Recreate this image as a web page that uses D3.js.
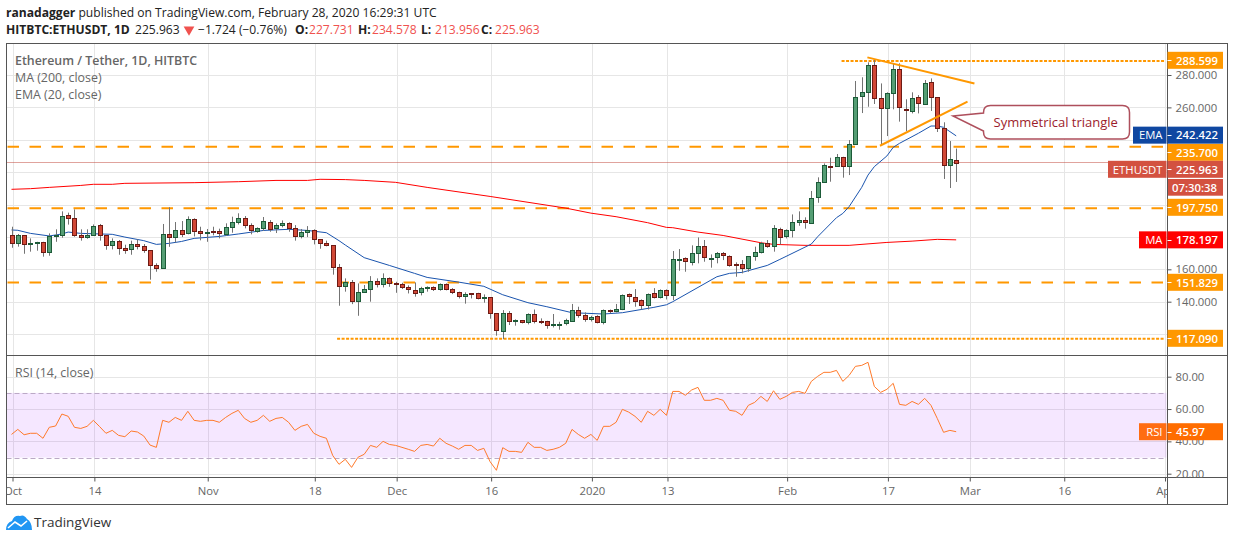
<!DOCTYPE html>
<html>
<head>
<meta charset="utf-8">
<script src="https://cdn.jsdelivr.net/npm/d3@7"></script>
<style>
  html, body { margin: 0; padding: 0; background: #fff; }
  text { font-family: "Open Sans", sans-serif; }
</style>
</head>
<body>
<svg id="chart" width="1234" height="541"></svg>
<script>
// daily candles, day 0 is 1 Oct 2019, day 150 is 28 Feb 2020
var opens = [
  181.0, 176.0, 181.0, 175.4, 176.0, 176.6, 170.5, 180.2, 181.0, 193.3,
  191.5, 181.0, 179.5, 180.8, 187.1, 181.0, 174.8, 177.2, 172.9, 172.3,
  175.4, 174.2, 171.7, 162.4, 160.6, 181.6, 179.5, 184.0, 182.2, 190.8,
  183.4, 182.2, 183.4, 183.4, 181.6, 185.9, 189.0, 191.5, 187.1, 183.6,
  185.1, 189.0, 185.1, 187.1, 188.4, 185.3, 180.3, 182.8, 184.0, 178.5,
  176.0, 174.8, 161.2, 149.5, 151.9, 140.0, 145.8, 147.6, 152.5, 150.5,
  154.4, 151.3, 150.7, 148.8, 147.0, 145.8, 148.2, 148.8, 147.6, 150.7,
  147.6, 145.8, 143.3, 145.1, 145.1, 142.0, 142.7, 132.8, 121.7, 132.8,
  128.2, 128.4, 127.2, 132.2, 127.8, 127.8, 125.4, 125.4, 126.6, 127.8,
  134.6, 131.6, 129.1, 130.9, 127.2, 134.6, 134.0, 135.2, 144.5, 142.7,
  140.8, 137.7, 145.1, 142.7, 147.0, 143.9, 165.5, 166.8, 164.3, 169.8,
  174.2, 166.5, 167.4, 169.8, 168.0, 163.0, 163.0, 160.6, 168.0, 170.5,
  176.0, 174.2, 184.7, 180.3, 184.0, 189.0, 190.2, 188.6, 204.4, 213.7,
  223.6, 223.6, 229.1, 223.6, 237.2, 266.8, 269.3, 286.0, 265.6, 259.4,
  268.7, 283.5, 258.8, 257.6, 266.2, 261.9, 275.5, 266.2, 247.0, 224.2,
  227.731
];
var closes = [
  176.0, 181.0, 175.4, 176.2, 176.8, 170.5, 180.3, 181.0, 192.7, 191.2,
  180.8, 179.5, 181.0, 186.5, 180.8, 174.8, 177.2, 172.9, 171.7, 175.4,
  174.2, 171.7, 162.4, 160.6, 181.6, 179.5, 184.0, 181.6, 190.8, 183.4,
  182.2, 182.8, 183.2, 182.2, 185.9, 189.0, 191.5, 187.3, 184.0, 185.3,
  189.6, 184.7, 187.1, 188.4, 185.1, 180.3, 182.8, 184.0, 178.5, 176.0,
  174.8, 161.2, 149.5, 151.9, 140.0, 145.8, 147.6, 152.5, 150.5, 154.4,
  151.3, 150.7, 148.8, 147.6, 145.1, 148.2, 148.8, 147.6, 150.7, 147.6,
  145.8, 143.3, 144.5, 144.9, 142.0, 142.7, 132.8, 122.3, 132.8, 127.8,
  128.4, 127.2, 132.2, 127.8, 127.6, 125.4, 126.0, 126.0, 128.4, 134.6,
  131.6, 129.1, 130.3, 127.2, 134.6, 134.4, 135.2, 143.9, 143.3, 140.2,
  137.7, 144.5, 142.7, 147.0, 143.9, 166.1, 166.1, 164.7, 169.8, 174.2,
  167.4, 166.8, 169.8, 168.4, 162.4, 162.8, 160.6, 168.0, 170.5, 176.0,
  174.0, 185.3, 179.7, 184.0, 189.0, 190.2, 189.0, 203.8, 213.7, 224.2,
  223.4, 229.1, 223.6, 237.2, 266.2, 269.3, 286.0, 265.6, 259.4, 268.7,
  283.5, 260.0, 258.2, 265.6, 262.5, 274.8, 266.2, 247.0, 224.2, 227.9,
  225.963
];
var highs = [
  186.3, 181.8, 181.2, 179.1, 177.0, 177.0, 182.2, 184.7, 195.8, 195.0,
  197.0, 184.7, 184.7, 187.7, 188.0, 181.0, 179.1, 178.1, 175.2, 177.7,
  178.5, 175.6, 171.9, 163.7, 188.0, 198.3, 189.2, 189.8, 192.7, 191.5,
  186.3, 184.9, 186.3, 185.1, 188.4, 192.5, 194.6, 192.9, 188.4, 185.9,
  192.3, 190.4, 188.4, 190.2, 189.0, 187.3, 184.9, 186.7, 184.7, 178.5,
  177.7, 174.8, 163.3, 154.4, 153.4, 151.3, 150.3, 155.8, 154.4, 157.5,
  155.0, 152.3, 151.7, 150.1, 151.9, 149.2, 149.5, 149.5, 151.3, 151.3,
  148.4, 146.2, 145.8, 145.1, 145.5, 144.5, 142.7, 132.8, 134.8, 134.2,
  129.1, 128.7, 132.8, 135.2, 129.7, 128.2, 132.4, 127.6, 129.5, 138.6,
  136.9, 133.4, 131.3, 131.6, 135.2, 135.2, 138.6, 144.5, 145.1, 147.8,
  141.4, 145.1, 148.4, 147.6, 147.6, 171.3, 172.5, 167.4, 174.8, 179.7,
  178.1, 169.2, 170.7, 170.7, 168.6, 164.3, 165.7, 168.2, 174.0, 177.0,
  178.1, 187.3, 185.7, 184.7, 193.9, 195.8, 192.1, 208.4, 216.8, 225.4,
  228.9, 231.2, 229.5, 239.8, 276.3, 278.6, 287.8, 289.3, 274.8, 269.3,
  287.2, 287.2, 265.0, 269.3, 267.6, 276.9, 277.9, 266.2, 250.8, 239.2,
  234.578
];
var lows = [
  173.3, 174.0, 169.6, 170.9, 171.5, 167.8, 168.4, 177.0, 179.5, 187.6,
  180.1, 177.7, 178.9, 180.8, 177.7, 172.1, 172.3, 169.0, 169.6, 169.0,
  172.3, 170.2, 153.6, 158.5, 160.4, 173.9, 176.6, 179.9, 181.6, 180.3,
  177.9, 177.0, 181.0, 179.1, 180.6, 182.6, 187.7, 185.3, 181.6, 182.6,
  183.8, 183.2, 182.4, 185.9, 183.2, 177.7, 179.1, 179.9, 175.4, 172.7,
  174.2, 156.7, 137.5, 146.2, 138.5, 131.3, 145.8, 140.0, 148.8, 148.8,
  149.2, 145.5, 147.8, 145.1, 143.1, 143.9, 146.2, 146.6, 146.8, 147.0,
  144.7, 142.0, 138.8, 142.0, 141.4, 139.4, 129.5, 119.0, 116.9, 125.6,
  125.2, 126.6, 126.0, 126.6, 126.2, 123.3, 124.1, 122.7, 125.4, 127.6,
  130.1, 127.6, 127.8, 126.6, 126.0, 132.8, 133.4, 134.8, 138.6, 136.9,
  135.2, 135.2, 142.0, 142.0, 141.4, 141.0, 159.1, 158.5, 162.4, 163.7,
  164.7, 161.0, 163.7, 165.7, 161.6, 155.4, 157.5, 158.5, 165.3, 169.8,
  173.3, 170.9, 175.4, 179.1, 179.7, 186.9, 185.1, 188.2, 201.1, 213.7,
  214.1, 223.4, 216.6, 218.2, 237.2, 256.5, 260.4, 262.1, 237.2, 242.3,
  258.8, 251.2, 245.4, 256.3, 256.3, 261.5, 257.8, 244.8, 215.8, 210.2,
  213.956
];

// moving averages, read at the days listed
var maDays = [0, 3, 6, 11, 13, 16, 18, 29, 36, 42, 47, 49, 53, 56, 61, 66, 76, 88, 92, 96, 101, 104, 105, 109, 113, 119, 121, 126, 133, 139, 143, 147, 150];
var maValues = [209.4, 209.8, 210.6, 211.8, 212.5, 212.5, 213.1, 213.5, 214.1, 214.9, 214.9, 215.6, 215.4, 214.9, 213.7, 210.6, 205.0, 197.8, 194.7, 192.5, 188.8, 185.9, 185.7, 183.0, 180.9, 176.4, 175.4, 174.8, 174.8, 176.6, 177.4, 178.5, 178.197];
var emaDays = [0, 1, 3, 6, 8, 9, 11, 16, 18, 21, 23, 25, 27, 29, 33, 36, 40, 44, 47, 50, 52, 53, 56, 60, 64, 66, 71, 75, 78, 82, 85, 89, 94, 97, 102, 104, 105, 112, 114, 116, 120, 122, 127, 128, 131, 132, 133, 135, 136, 137, 139, 140, 141, 144, 146, 147, 148, 150];
var emaValues = [184.3, 184.1, 182.2, 180.6, 181.8, 183.0, 182.2, 181.6, 179.9, 177.7, 175.4, 176.0, 177.2, 179.1, 180.3, 181.8, 184.0, 184.7, 184.0, 182.6, 177.7, 175.0, 167.2, 162.4, 157.5, 155.0, 152.1, 149.5, 144.3, 139.4, 136.9, 133.2, 132.4, 133.2, 136.5, 138.1, 140.0, 155.4, 157.5, 158.1, 162.4, 166.1, 175.6, 180.1, 191.9, 194.5, 198.7, 210.6, 218.2, 223.4, 230.0, 235.3, 237.8, 244.0, 248.5, 248.5, 247.7, 242.422];

var rsiValues = [
  44.3, 47.4, 44.1, 45.0, 45.0, 41.9, 48.7, 49.5, 56.9, 55.5,
  48.7, 48.0, 49.3, 53.0, 49.1, 45.0, 46.8, 43.7, 42.9, 46.4,
  45.8, 43.3, 37.7, 36.3, 53.0, 51.8, 54.8, 53.0, 58.6, 53.0,
  52.4, 53.0, 53.0, 51.8, 54.8, 57.3, 59.2, 54.2, 51.8, 53.0,
  56.1, 52.4, 54.2, 54.8, 51.8, 46.8, 49.3, 50.5, 45.0, 43.1,
  41.9, 31.3, 25.8, 28.9, 23.9, 30.1, 32.0, 37.5, 36.3, 40.0,
  38.1, 37.5, 36.3, 35.1, 33.8, 37.5, 38.1, 37.1, 41.9, 38.8,
  37.1, 35.1, 37.5, 37.5, 34.4, 35.7, 27.4, 22.1, 36.1, 33.8,
  33.8, 33.2, 39.4, 36.3, 36.3, 34.4, 35.1, 36.3, 38.8, 47.4,
  44.3, 41.9, 44.3, 40.6, 49.3, 49.3, 51.8, 59.8, 58.1, 55.5,
  51.8, 58.6, 56.1, 59.8, 56.1, 70.9, 70.9, 68.5, 71.8, 73.4,
  65.4, 65.4, 66.6, 65.4, 59.2, 58.6, 56.1, 62.3, 64.1, 67.8,
  64.7, 71.3, 66.0, 67.8, 70.3, 70.9, 69.7, 77.1, 80.2, 82.7,
  82.7, 83.9, 77.1, 80.8, 86.4, 87.0, 88.9, 74.0, 70.3, 72.2,
  75.9, 62.9, 62.3, 64.7, 62.9, 66.6, 62.3, 54.2, 45.6, 46.8,
  45.97
];

var priceTicks = [120, 140, 160, 180, 200, 220, 240, 260, 280];
var priceTickLabels = [140, 160, 260, 280]; // the others sit under the value tags
var rsiTicks = [20, 40, 60, 80];
var timeTickDays = [0, 13, 31, 48, 61, 76, 92, 104, 123, 139, 152, 167, 183];
var timeTickLabels = ['Oct', '14', 'Nov', '18', 'Dec', '16', '2020', '13', 'Feb', '17', 'Mar', '16', 'Apr'];

// support / resistance levels: price, first day, kind
var levelPrices = [288.599, 235.7, 197.75, 151.829, 117.09];
var levelStarts = [131.8, -1, -1, -1, 51.7];
var levelDotted = [true, false, false, false, true];

var triangleUpperDays = [135.9, 152.9];
var triangleUpperPrices = [290.9, 274.8];
var triangleLowerDays = [137.9, 151.8];
var triangleLowerPrices = [236.3, 263.5];

var svg = d3.select('#chart');
var frameLeft = 6.5, frameRight = 1227.5, frameTop = 43.5, frameBottom = 504.5;
var axisX = 1167.5, paneSplit = 355.5, timeY = 477.5;

var x = d3.scaleLinear().domain([0, 183]).range([12.5, 1165]);
var xc = function (d) { return x(d) - 1; }; // candles sit a pixel left of the grid
var y = d3.scaleLinear().domain([140, 280]).range([301.7, 75]);
var yRsi = d3.scaleLinear().domain([20, 80]).range([473.7, 376.7]);

var defs = svg.append('defs');
defs.append('clipPath').attr('id', 'timeClip').append('rect')
  .attr('x', frameLeft).attr('y', 0).attr('width', axisX - frameLeft).attr('height', frameBottom - timeY);

var orange = '#ff9800';
var gridColor = '#e6e6e6';
var axisColor = '#555';
var textGrey = '#666';

// grid
svg.append('g').selectAll('line').data(timeTickDays).enter().append('line')
  .attr('x1', function (d) { return Math.round(x(d)) + 0.5; }).attr('x2', function (d) { return Math.round(x(d)) + 0.5; })
  .attr('y1', frameTop).attr('y2', timeY)
  .attr('stroke', gridColor);
svg.append('g').selectAll('line').data(priceTicks).enter().append('line')
  .attr('x1', frameLeft).attr('x2', axisX)
  .attr('y1', function (d) { return Math.round(y(d)) + 0.5; }).attr('y2', function (d) { return Math.round(y(d)) + 0.5; })
  .attr('stroke', gridColor);
svg.append('g').selectAll('line').data(rsiTicks).enter().append('line')
  .attr('x1', frameLeft).attr('x2', axisX)
  .attr('y1', function (d) { return Math.round(yRsi(d)) + 0.5; }).attr('y2', function (d) { return Math.round(yRsi(d)) + 0.5; })
  .attr('stroke', gridColor);

// rsi band
svg.append('rect')
  .attr('x', frameLeft).attr('width', axisX - frameLeft - 1)
  .attr('y', yRsi(70)).attr('height', yRsi(30) - yRsi(70))
  .attr('fill', '#9915ff').attr('fill-opacity', 0.1);
[70, 30].forEach(function (v) {
  svg.append('line')
    .attr('x1', frameLeft).attr('x2', axisX - 1)
    .attr('y1', Math.round(yRsi(v)) + 0.5).attr('y2', Math.round(yRsi(v)) + 0.5)
    .attr('stroke', '#bba9c6').attr('stroke-dasharray', '5,3');
});

// levels
levelPrices.forEach(function (p, i) {
  var start = levelStarts[i] < 0 ? frameLeft + 1 : xc(levelStarts[i]);
  svg.append('line')
    .attr('x1', start).attr('x2', axisX - 3)
    .attr('y1', y(p)).attr('y2', y(p))
    .attr('stroke', orange).attr('stroke-width', 2)
    .attr('stroke-dasharray', levelDotted[i] ? '3,1.5' : '11.5,10.5');
});

// current price line
svg.append('line')
  .attr('x1', frameLeft).attr('x2', 1108)
  .attr('y1', Math.round(y(closes[150])) - 0.5).attr('y2', Math.round(y(closes[150])) - 0.5)
  .attr('stroke', '#c0463a').attr('stroke-dasharray', '1,1');

// moving averages
var line = d3.line();
function drawAverage(days, values, color) {
  svg.append('path')
    .attr('d', line(days.map(function (d, i) { return [xc(d), y(values[i])]; })))
    .attr('fill', 'none').attr('stroke', color).attr('stroke-width', 1);
}
drawAverage(maDays, maValues, '#f00');
drawAverage(emaDays, emaValues, '#1a54ae');

// candles
var candles = svg.append('g').selectAll('g').data(d3.range(opens.length)).enter().append('g');
candles.append('line')
  .attr('x1', function (i) { return Math.round(xc(i)) + 0.5; })
  .attr('x2', function (i) { return Math.round(xc(i)) + 0.5; })
  .attr('y1', function (i) { return y(highs[i]); })
  .attr('y2', function (i) { return y(lows[i]); })
  .attr('stroke', '#737373');
candles.append('rect')
  .attr('x', function (i) { return Math.round(xc(i)) - 1.5; })
  .attr('width', 4)
  .attr('y', function (i) { return Math.round(y(Math.max(opens[i], closes[i]))) + 0.5; })
  .attr('height', function (i) { return Math.max(1, Math.round(Math.abs(y(opens[i]) - y(closes[i])))); })
  .attr('fill', function (i) { return closes[i] >= opens[i] ? '#559e74' : '#d14836'; })
  .attr('stroke', function (i) { return closes[i] >= opens[i] ? '#1c5a38' : '#6d1a14'; });

// triangle
function drawTrend(days, prices) {
  svg.append('path')
    .attr('d', line(days.map(function (d, i) { return [xc(d), y(prices[i])]; })))
    .attr('fill', 'none').attr('stroke', orange).attr('stroke-width', 2);
}
drawTrend(triangleUpperDays, triangleUpperPrices);
drawTrend(triangleLowerDays, triangleLowerPrices);

// rsi line
svg.append('path')
  .attr('d', line(rsiValues.map(function (v, i) { return [xc(i), yRsi(v)]; })))
  .attr('fill', 'none').attr('stroke', '#ff7a2b').attr('stroke-width', 1);

// callout
svg.append('path')
  .attr('d', 'M990.5,105.5 H1122.5 Q1129.5,105.5 1129.5,112.5 V132 Q1129.5,139 1122.5,139 H990.5 Q983.5,139 983.5,132 V131 L953,116 L983.5,113 V112.5 Q983.5,105.5 990.5,105.5 Z')
  .attr('fill', '#fff').attr('stroke', '#a03040').attr('stroke-opacity', 0.85).attr('stroke-width', 1.5);
svg.append('text').attr('x', 993.5).attr('y', 126.5)
  .attr('font-size', 13).attr('fill', '#9c1c2c').text('Symmetrical triangle');

// frame
svg.append('rect').attr('x', frameLeft).attr('y', frameTop).attr('width', frameRight - frameLeft).attr('height', frameBottom - frameTop)
  .attr('fill', 'none').attr('stroke', axisColor);
[paneSplit, timeY].forEach(function (v) {
  svg.append('line').attr('x1', frameLeft).attr('x2', frameRight).attr('y1', v).attr('y2', v).attr('stroke', axisColor);
});
svg.append('line').attr('x1', axisX).attr('x2', axisX).attr('y1', frameTop).attr('y2', frameBottom).attr('stroke', axisColor);

// axes
function styleAxis(g) {
  g.select('.domain').remove();
  g.selectAll('.tick line').attr('stroke', axisColor);
  g.selectAll('.tick text').attr('fill', textGrey).attr('font-size', 11.3);
}
svg.append('g').attr('transform', 'translate(' + axisX + ',0)')
  .call(d3.axisRight(y).tickValues(priceTicks)
    .tickFormat(function (d) { return priceTickLabels.indexOf(d) < 0 ? '' : d3.format('.3f')(d); })
    .tickSize(4).tickPadding(4))
  .call(styleAxis);
svg.append('g').attr('transform', 'translate(' + axisX + ',0)')
  .call(d3.axisRight(yRsi).tickValues(rsiTicks).tickFormat(d3.format('.2f')).tickSize(4).tickPadding(4))
  .call(styleAxis);
svg.append('g').attr('transform', 'translate(0,' + timeY + ')').attr('clip-path', 'url(#timeClip)')
  .call(d3.axisBottom(x).tickValues(timeTickDays).tickFormat(function (d) { return timeTickLabels[timeTickDays.indexOf(d)]; }).tickSize(4).tickPadding(5))
  .call(styleAxis);

// price labels, pushed apart the way the platform stacks them
function priceTag(value, yPos, fill) {
  var g = svg.append('g');
  g.append('rect').attr('x', axisX).attr('y', yPos - 8.5).attr('width', 55.5).attr('height', 17).attr('fill', fill);
  g.append('line').attr('x1', axisX).attr('x2', axisX + 4).attr('y1', Math.round(yPos) + 0.5).attr('y2', Math.round(yPos) + 0.5).attr('stroke', '#fff');
  g.append('text').attr('x', axisX + 8.5).attr('y', yPos + 4.2).attr('fill', '#fff').attr('font-size', 11.3).attr('font-weight', 600).text(value);
}
function nameTag(name, yPos, fill, xStart) {
  svg.append('rect').attr('x', xStart).attr('y', yPos - 8.5).attr('width', axisX - 1 - xStart).attr('height', 17).attr('fill', fill);
  svg.append('text').attr('x', axisX - 5).attr('y', yPos + 4.2).attr('text-anchor', 'end')
    .attr('fill', '#fff').attr('font-size', 11.3).text(name);
}
var levelText = d3.format('.3f');
var levelTagY = [60.3, 152.3, 207.3, 282.3, 338.3];
var emaLast = emaValues[emaValues.length - 1];
var maLast = maValues[maValues.length - 1];
levelPrices.forEach(function (p, i) {
  priceTag(levelText(p), levelTagY[i], orange);
});
priceTag(levelText(emaLast), y(emaLast) - 0.7, '#0f47a1');
nameTag('EMA', y(emaLast) - 0.7, '#0f47a1', 1133);
priceTag(levelText(closes[150]), 169.3, '#d35140');
nameTag('ETHUSDT', 169.3, '#d35140', 1108);
svg.append('rect').attr('x', 1168).attr('y', 179).attr('width', 55).attr('height', 16.7).attr('fill', '#d35140');
svg.append('text').attr('x', 1172).attr('y', 191.6).attr('fill', '#fff').attr('font-size', 11.3).attr('font-weight', 600).text('07:30:38');
priceTag(levelText(maLast), y(maLast), '#f00');
nameTag('MA', y(maLast), '#f00', 1139);
priceTag(d3.format('.2f')(rsiValues[150]), yRsi(rsiValues[150]), '#ff6d00');
nameTag('RSI', yRsi(rsiValues[150]), '#ff6d12', 1139);

// pane legends
function legend(txt, yPos, weight) {
  svg.append('text').attr('x', 15).attr('y', yPos).attr('fill', textGrey)
    .attr('font-size', 12.4).attr('font-weight', weight || 400).text(txt);
}
legend('Ethereum / Tether, 1D, HITBTC', 65, 600);
legend('MA (200, close)', 82);
legend('EMA (20, close)', 99);
legend('RSI (14, close)', 377);

// header
var dark = '#222';
var down = '#f0524f';
var line1 = svg.append('text').attr('x', 6).attr('y', 17).attr('font-size', 12.1).attr('fill', dark);
line1.append('tspan').attr('font-weight', 700).text('ranadagger');
line1.append('tspan').text(' published on TradingView.com, February 28, 2020 16:29:31 UTC');

var line2 = svg.append('text').attr('x', 6).attr('y', 34).attr('font-size', 12.1).attr('fill', dark);
line2.append('tspan').attr('font-weight', 700).text('HITBTC:ETHUSDT, 1D');
line2.append('tspan').attr('x', 135).text(levelText(closes[150]));
svg.append('path').attr('d', d3.symbol().type(d3.symbolTriangle).size(50)()).attr('fill', down)
  .attr('transform', 'translate(189,29.5) rotate(180)');
line2.append('tspan').attr('x', 198).text('\u22121.724 (\u22120.76%)');
var ohlcNames = ['O:', 'H:', 'L:', 'C:'];
var ohlcValues = [opens[150], highs[150], lows[150], closes[150]];
var ohlcX = [295, 358, 421, 481];
ohlcNames.forEach(function (n, i) {
  line2.append('tspan').attr('x', ohlcX[i]).attr('font-weight', 700).text(n);
  line2.append('tspan').attr('x', ohlcX[i] + 14).attr('fill', down).text(levelText(ohlcValues[i]));
});

// logo
svg.append('path')
  .attr('d', 'M6,530 Q6,523 12,521 Q14,515 20,516 Q24,514 27,519 Q32,522 32,530 Z')
  .attr('fill', '#2196f3');
svg.append('path')
  .attr('d', 'M8,528 L15,522 L21,526 L27,521')
  .attr('fill', 'none').attr('stroke', '#fff').attr('stroke-width', 1.6);
svg.append('text').attr('x', 34).attr('y', 527).attr('font-size', 13.5).attr('fill', '#333').text('TradingView');
</script>
</body>
</html>
